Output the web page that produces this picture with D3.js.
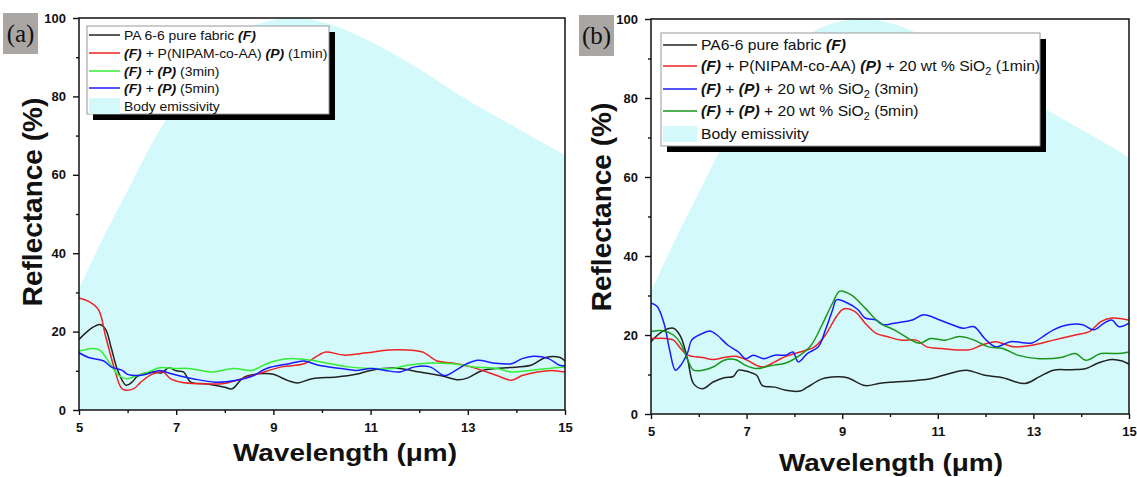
<!DOCTYPE html>
<head>
  <meta charset="utf-8">
  <script src="https://d3js.org/d3.v7.min.js"></script>
  <style>
    body { margin: 0; background: #fff; }
    text { font-family: Arial, 'Liberation Sans', sans-serif; }
    .tick text { font-size: 13px; font-weight: bold; fill: #111; }
    .tick line { stroke: #111; stroke-width: 1.4; }
    .domain { display: none; }
    .title { font-size: 26px; font-weight: bold; fill: #111; }
    .legend text { fill: #111; }
  </style>
</head>
<body>
  <script>
    // tick values
    var xMajor = [5, 7, 9, 11, 13, 15];
    var xMinor = [6, 8, 10, 12, 14];
    var yMajor = [0, 20, 40, 60, 80, 100];
    var yMinor = [10, 30, 50, 70, 90];

    // body emissivity envelope (%)
    var emissivity = [[5, 31], [5.5, 44], [6, 56], [6.5, 68], [7, 78], [7.5, 87], [8, 93.5],
      [8.5, 97.5], [9, 99.5], [9.5, 100], [10, 99], [11, 94], [12, 87], [13, 79], [14, 72], [15, 65]];

    // panel (a)
    var aBlack = [[5, 18], [5.15, 19.8], [5.3, 21.2], [5.43, 21.8], [5.55, 20.5], [5.66, 16], [5.8, 10],
      [5.97, 6.3], [6.1, 7.2], [6.2, 8.6], [6.5, 9.7], [6.7, 9.5], [6.85, 10.8], [7.0, 10], [7.15, 9.7],
      [7.3, 7.1], [7.6, 6.7], [8.0, 5.8], [8.15, 5.4], [8.4, 8.4], [8.8, 9.3], [9.0, 9.1], [9.3, 7.5],
      [9.5, 6.9], [9.8, 8], [10.3, 8.4], [10.7, 9.1], [11.0, 10.1], [11.5, 10.7], [12.0, 9.7], [12.5, 8.6],
      [12.8, 7.7], [13.0, 8.2], [13.3, 10.1], [13.8, 10.8], [14.3, 11.4], [14.6, 13.4], [14.9, 13.4], [15, 12.5]];
    var aRed = [[5, 28.6], [5.2, 27.7], [5.4, 25.6], [5.55, 18.7], [5.74, 10.1], [5.89, 5.4], [6.12, 5.4],
      [6.27, 7.1], [6.5, 9.1], [6.73, 9.7], [6.88, 8.0], [7.1, 7.1], [7.5, 6.7], [7.95, 6.7], [8.25, 7.6],
      [8.7, 9.3], [9.17, 11], [9.63, 11.8], [9.93, 14], [10.08, 14.8], [10.46, 14], [10.92, 14.6],
      [11.38, 15.3], [11.76, 15.3], [12.07, 14.8], [12.37, 12.5], [12.68, 12.0], [13.06, 11], [13.29, 10.1],
      [13.6, 8.8], [13.9, 7.6], [14.12, 8.8], [14.43, 9.7], [14.73, 10.1], [15, 9.7]];
    var aGreen = [[5, 15], [5.28, 15.7], [5.43, 15.3], [5.66, 11.4], [5.82, 8.8], [5.97, 8.0], [6.2, 8.8],
      [6.43, 9.7], [6.66, 10.8], [6.96, 10.6], [7.26, 10.6], [7.72, 9.7], [8.18, 10.6], [8.56, 10.1],
      [8.86, 11.8], [9.17, 12.9], [9.47, 13.1], [9.78, 12.7], [10.08, 12.0], [10.54, 11], [11, 10.6],
      [11.46, 10.6], [11.76, 11.4], [12.22, 12.0], [12.68, 11.8], [13.13, 11.0], [13.6, 10.6], [13.9, 9.7],
      [14.28, 10.1], [14.66, 10.6], [15, 11]];
    var aBlue = [[5, 14.6], [5.2, 13.4], [5.51, 12.5], [5.66, 11], [5.89, 10.1], [6.0, 9.1], [6.2, 8.8],
      [6.43, 9.3], [6.66, 10.1], [6.88, 9.3], [7.1, 8.6], [7.34, 8.0], [7.8, 7.1], [8.25, 7.6], [8.56, 8.6],
      [8.86, 10.6], [9.32, 11.8], [9.63, 12.5], [9.93, 11.4], [10.39, 10.6], [10.7, 10.1], [11.0, 10.6],
      [11.3, 10.1], [11.6, 9.7], [11.91, 11], [12.22, 11], [12.52, 8.8], [12.75, 10.1], [12.98, 11.8],
      [13.21, 12.7], [13.52, 12.0], [13.9, 11.8], [14.12, 13.1], [14.35, 13.7], [14.66, 13.1],
      [14.89, 11.4], [15, 11.2]];

    // panel (b)
    var bBlack = [[5, 18.3], [5.24, 20.9], [5.47, 21.7], [5.62, 19.6], [5.77, 13.6], [5.89, 7.7], [6.08, 6.4],
      [6.3, 8.1], [6.53, 9.2], [6.72, 9.5], [6.83, 11.1], [7.06, 10.6], [7.21, 9.8], [7.33, 7.2], [7.59, 6.8],
      [7.82, 6.0], [8.12, 5.8], [8.27, 6.8], [8.58, 8.9], [8.88, 9.4], [9.11, 9.2], [9.48, 7.2], [9.79, 7.8],
      [10.09, 8.1], [10.55, 8.5], [10.85, 8.9], [11.23, 10.2], [11.6, 11.1], [11.98, 9.8], [12.36, 9.2],
      [12.82, 7.7], [13.12, 9.4], [13.42, 11.1], [13.8, 11.2], [14.1, 11.5], [14.33, 12.8], [14.64, 13.8],
      [14.86, 13.4], [15, 12.6]];
    var bRed = [[5, 19.1], [5.32, 19.1], [5.47, 18.7], [5.62, 16.6], [5.77, 14.9], [6.08, 14.3], [6.3, 13.8],
      [6.53, 14.3], [6.76, 14.6], [6.98, 13.8], [7.21, 12.3], [7.36, 11.9], [7.59, 13.2], [7.82, 14.6],
      [8.12, 15.7], [8.42, 17.0], [8.65, 20.0], [8.88, 24.7], [9.03, 26.6], [9.26, 26.0], [9.48, 23.0],
      [9.71, 20.4], [9.94, 19.6], [10.24, 18.7], [10.55, 18.7], [10.77, 17.0], [11.08, 16.6], [11.45, 16.2],
      [11.68, 16.3], [11.91, 17.4], [12.21, 18.3], [12.59, 17.0], [12.97, 17.4], [13.42, 18.7], [13.88, 20.0],
      [14.18, 20.9], [14.41, 23.4], [14.64, 24.3], [15, 23.8]];
    var bBlue = [[5, 28.1], [5.13, 27.2], [5.28, 22.6], [5.39, 16.2], [5.51, 11.1], [5.62, 12.3], [5.77, 15.7],
      [5.85, 18.7], [6.08, 20.4], [6.23, 21.0], [6.38, 20.0], [6.61, 17.4], [6.83, 15.7], [6.98, 14.0],
      [7.14, 14.9], [7.36, 14.0], [7.59, 14.9], [7.82, 14.9], [7.97, 15.7], [8.08, 13.2], [8.27, 15.3],
      [8.5, 17.0], [8.65, 21.3], [8.8, 26.4], [8.88, 28.9], [9.11, 28.1], [9.33, 26.4], [9.48, 24.3],
      [9.71, 23.8], [9.86, 22.6], [10.09, 23.0], [10.47, 23.8], [10.7, 25.1], [11.0, 24.0], [11.3, 22.6],
      [11.53, 21.7], [11.76, 22.1], [11.98, 19.1], [12.21, 17.0], [12.52, 18.3], [12.97, 18.0], [13.2, 19.6],
      [13.42, 21.3], [13.73, 22.6], [14.03, 22.6], [14.26, 21.3], [14.48, 23.0], [14.64, 23.8], [14.79, 22.1],
      [15, 23.0]];
    var bGreen = [[5, 20.9], [5.24, 21.1], [5.47, 20.0], [5.62, 17.9], [5.77, 13.6], [5.89, 11.1], [6.08, 11.1],
      [6.3, 11.9], [6.53, 13.6], [6.76, 13.8], [6.98, 12.3], [7.21, 11.5], [7.52, 12.3], [7.82, 12.9],
      [8.12, 14.9], [8.35, 17.4], [8.58, 22.6], [8.8, 28.1], [8.95, 31.1], [9.18, 30.2], [9.48, 26.8],
      [9.79, 23.0], [10.09, 21.3], [10.39, 19.1], [10.62, 17.9], [10.85, 19.1], [11.15, 18.7], [11.45, 19.6],
      [11.76, 18.7], [12.06, 17.0], [12.36, 16.6], [12.67, 14.9], [13.12, 14.0], [13.58, 14.3], [13.88, 15.3],
      [14.1, 13.6], [14.41, 15.3], [14.79, 15.3], [15, 15.7]];

    // legend labels: segments, "bi" = bold italic, "sub" = subscript
    var aLabels = [
      [["PA 6-6 pure fabric "], ["(F)", "bi"]],
      [["(F)", "bi"], [" + P(NIPAM-co-AA) "], ["(P)", "bi"], [" (1min)"]],
      [["(F)", "bi"], [" + "], ["(P)", "bi"], [" (3min)"]],
      [["(F)", "bi"], [" + "], ["(P)", "bi"], [" (5min)"]],
      [["Body emissivity"]]
    ];
    var bLabels = [
      [["PA6-6 pure fabric "], ["(F)", "bi"]],
      [["(F)", "bi"], [" + P(NIPAM-co-AA) "], ["(P)", "bi"], [" + 20 wt % SiO"], ["2", "sub"], [" (1min)"]],
      [["(F)", "bi"], [" + "], ["(P)", "bi"], [" + 20 wt % SiO"], ["2", "sub"], [" (3min)"]],
      [["(F)", "bi"], [" + "], ["(P)", "bi"], [" + 20 wt % SiO"], ["2", "sub"], [" (5min)"]],
      [["Body emissivity"]]
    ];

    var cyan = "#d4f9fb";

    var svg = d3.select("body").append("svg")
        .attr("width", 1137)
        .attr("height", 477);

    function panel(o) {
      var x = d3.scaleLinear().domain([5, 15]).range([o.x0, o.x1]);
      var y = d3.scaleLinear().domain([0, 100]).range([o.y0, o.y1]);
      var g = svg.append("g");

      svg.append("clipPath").attr("id", "clip" + o.key)
        .append("rect")
          .attr("x", o.x0).attr("y", o.y1)
          .attr("width", o.x1 - o.x0).attr("height", o.y0 - o.y1);

      var area = d3.area()
          .x(function(d) { return x(d[0]); })
          .y0(y(0))
          .y1(function(d) { return y(d[1]); })
          .curve(d3.curveMonotoneX);

      g.append("path")
          .datum(emissivity)
          .attr("d", area)
          .attr("fill", cyan)
          .attr("clip-path", "url(#clip" + o.key + ")");

      var line = d3.line()
          .x(function(d) { return x(d[0]); })
          .y(function(d) { return y(d[1]); })
          .curve(d3.curveCatmullRom.alpha(0.5));

      o.series.forEach(function(s) {
        g.append("path")
            .datum(s.data)
            .attr("d", line)
            .attr("fill", "none")
            .attr("stroke", s.color)
            .attr("stroke-width", 1.5)
            .attr("clip-path", "url(#clip" + o.key + ")");
      });

      // axes
      g.append("g")
          .attr("transform", "translate(0," + o.y0 + ")")
          .call(d3.axisBottom(x).tickValues(xMajor).tickSize(5).tickPadding(8));
      g.append("g")
          .attr("transform", "translate(0," + o.y0 + ")")
          .call(d3.axisBottom(x).tickValues(xMinor).tickSize(3).tickFormat(""));
      g.append("g")
          .attr("transform", "translate(" + o.x0 + ",0)")
          .call(d3.axisLeft(y).tickValues(yMajor).tickSize(6).tickPadding(7));
      g.append("g")
          .attr("transform", "translate(" + o.x0 + ",0)")
          .call(d3.axisLeft(y).tickValues(yMinor).tickSize(3).tickFormat(""));

      g.append("rect")
          .attr("x", o.x0).attr("y", o.y1)
          .attr("width", o.x1 - o.x0).attr("height", o.y0 - o.y1)
          .attr("fill", "none")
          .attr("stroke", "#111")
          .attr("stroke-width", 1.5);

      // titles
      g.append("text")
          .attr("class", "title")
          .attr("x", o.xtX).attr("y", o.xtY)
          .attr("text-anchor", "middle")
          .attr("textLength", 224)
          .attr("lengthAdjust", "spacingAndGlyphs")
          .style("font-size", "23px")
          .text("Wavelength (\u03bcm)");
      g.append("text")
          .attr("class", "title")
          .attr("transform", "translate(" + o.ytX + "," + o.ytY + ") rotate(-90)")
          .attr("text-anchor", "middle")
          .style("font-size", "28px")
          .text("Reflectance (%)");

      // panel tag
      g.append("rect")
          .attr("x", o.tag[0]).attr("y", o.tag[1])
          .attr("width", 35).attr("height", 41)
          .attr("fill", "#a9a6a4");
      g.append("text")
          .attr("x", o.tag[0] + 17.5).attr("y", o.tag[1] + 29)
          .attr("text-anchor", "middle")
          .style("font-family", "'Liberation Serif', 'DejaVu Serif', serif")
          .style("font-size", "25px")
          .attr("fill", "#111")
          .text(o.label);

      // legend
      var L = o.legend;
      var lg = g.append("g").attr("class", "legend");
      lg.append("rect")
          .attr("x", L.x + 6).attr("y", L.y + 6)
          .attr("width", L.w).attr("height", L.h)
          .attr("fill", "#000");
      lg.append("rect")
          .attr("x", L.x).attr("y", L.y)
          .attr("width", L.w).attr("height", L.h)
          .attr("fill", "#fff")
          .attr("stroke", "#9a9a9a")
          .attr("stroke-width", 1);

      o.labels.forEach(function(lab, i) {
        var ry = L.rows[i];
        if (i < o.series.length) {
          lg.append("line")
              .attr("x1", L.x + 2).attr("x2", L.x + L.sample)
              .attr("y1", ry).attr("y2", ry)
              .attr("stroke", o.series[i].color)
              .attr("stroke-width", 1.5);
        } else {
          lg.append("rect")
              .attr("x", L.x + 2).attr("y", ry - 8)
              .attr("width", L.sample - 2).attr("height", 16)
              .attr("fill", cyan);
        }
        var t = lg.append("text")
            .attr("x", L.x + L.sample + 4)
            .attr("y", ry + L.fs * 0.36)
            .style("font-size", L.fs + "px");
        lab.forEach(function(seg, k) {
          var sp = t.append("tspan").text(seg[0]);
          if (seg[1] === "bi") sp.style("font-weight", "bold").style("font-style", "italic");
          if (seg[1] === "sub") sp.attr("dy", 4).style("font-size", (L.fs * 0.7) + "px");
          if (k > 0 && lab[k - 1][1] === "sub") sp.attr("dy", -4);
        });
        // the original lettering is a little wider than Arial
        var w = t.node().getComputedTextLength();
        t.attr("textLength", w * L.stretch).attr("lengthAdjust", "spacingAndGlyphs");
      });
    }

    panel({
      key: "a", label: "(a)",
      x0: 79, x1: 565, y0: 410, y1: 18,
      xtX: 345, xtY: 461, ytX: 42, ytY: 202,
      tag: [3, 13],
      series: [
        { data: aBlack, color: "#222222" },
        { data: aRed, color: "#ee2222" },
        { data: aGreen, color: "#33ee33" },
        { data: aBlue, color: "#1a1aff" }
      ],
      labels: aLabels,
      legend: { x: 87, y: 26, w: 242, h: 88, sample: 33, fs: 13.5, stretch: 1.03, rows: [35, 53, 71, 88, 106] }
    });

    panel({
      key: "b", label: "(b)",
      x0: 651, x1: 1129, y0: 414, y1: 19,
      xtX: 891, xtY: 471, ytX: 611, ytY: 207,
      tag: [579, 15],
      series: [
        { data: bBlack, color: "#222222" },
        { data: bRed, color: "#ee2222" },
        { data: bBlue, color: "#1a1aff" },
        { data: bGreen, color: "#1a961a" }
      ],
      labels: bLabels,
      legend: { x: 661, y: 33, w: 379, h: 113, sample: 36, fs: 14.5, stretch: 1.08, rows: [45, 66, 89, 111, 134] }
    });
  </script>
</body>
